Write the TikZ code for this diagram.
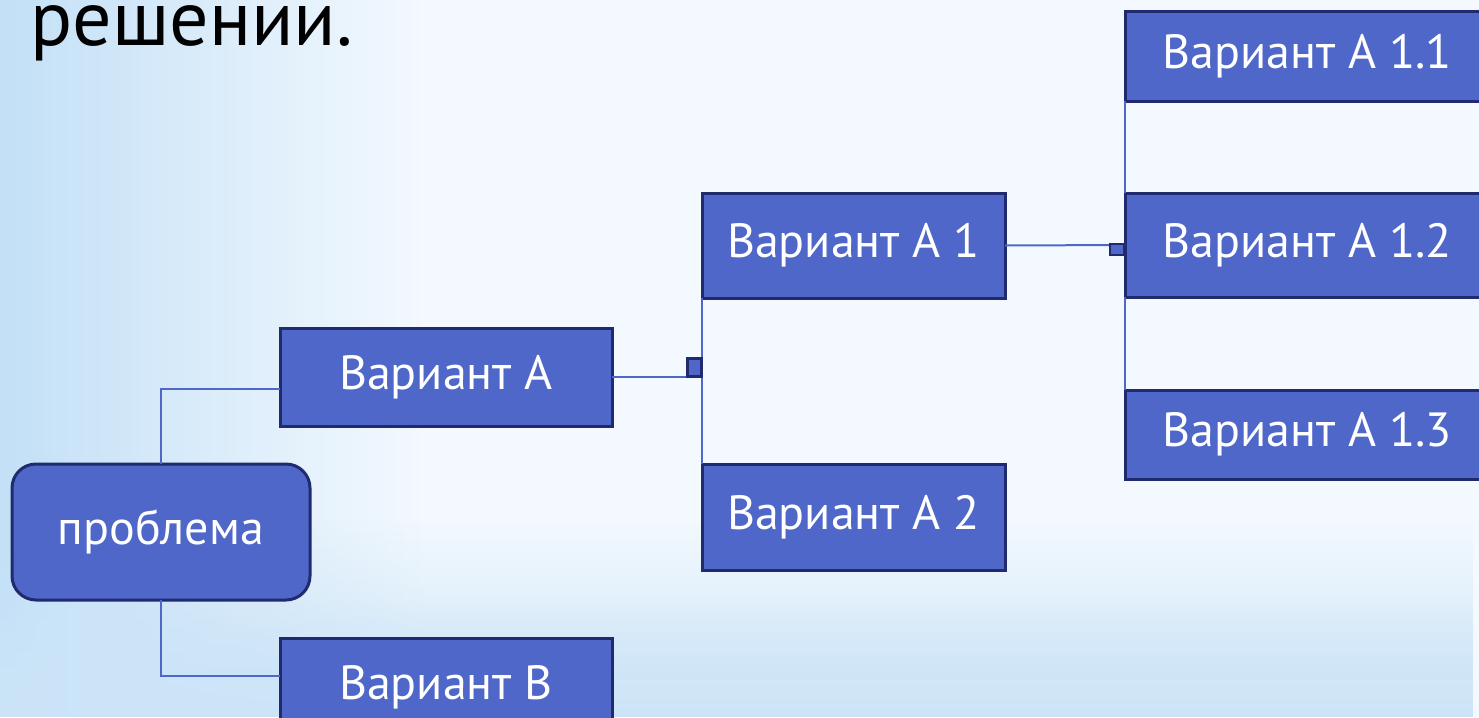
\documentclass[tikz,border=0pt]{standalone}
\usepackage{fontspec}
\usetikzlibrary{calc,fadings}
\newfontfamily\boxfont{PT Sans}
\newfontfamily\titlefont{PT Sans}
\definecolor{bgC}{HTML}{F3F9FE}
\definecolor{bgL}{HTML}{C3E0F7}
\definecolor{bgB}{HTML}{CBE4F8}
\definecolor{boxfill}{HTML}{4F67C9}
\definecolor{boxline}{HTML}{1F2B6E}
\definecolor{conn}{HTML}{4F67C9}
\tikzfading[name=fadeup, top color=transparent!100, bottom color=transparent!0]
\tikzfading[name=fadeleft, left color=transparent!0, right color=transparent!100]
\tikzset{
  vbox/.style={draw=boxline, fill=boxfill, line width=3pt, text=white,
    font=\boxfont\fontsize{48}{56}\selectfont, inner sep=0pt, outer sep=0pt},
  conline/.style={draw=conn, line width=2pt},
  tinybox/.style={draw=boxline, fill=boxfill, line width=2.5pt, inner sep=0pt, outer sep=0pt}
}
\begin{document}
\begin{tikzpicture}[x=1pt,y=-1pt]
\useasboundingbox (0,0) rectangle (1479,717);
\clip (0,0) rectangle (1479,717);
% background
\fill[bgC] (0,0) rectangle (1479,717);
\fill[bgL, path fading=fadeleft] (0,0) rectangle (420,717);
\fill[bgB, path fading=fadeup] (0,520) rectangle (1479,717);
\fill[bgB, path fading=fadeup, opacity=0.6] (0,600) rectangle (1479,680);
% title
\node[anchor=base west, inner sep=0pt, font=\titlefont\fontsize{78}{88}\selectfont, text=black] (title) at (30,46) {решении.};
% boxes
\node[vbox, rounded corners=24pt, minimum width=298pt, minimum height=136pt] (prob) at (161,532) {проблема};
\node[vbox, minimum width=332pt, minimum height=98pt] (vA) at (446,377) {Вариант А};
\node[vbox, minimum width=332pt, minimum height=98pt] (vB) at (446,687) {Вариант В};
\node[vbox, minimum width=303pt, minimum height=105pt] (vA1) at (853.5,245.5) {Вариант А 1};
\node[vbox, minimum width=303pt, minimum height=106pt] (vA2) at (853.5,517) {Вариант А 2};
\node[vbox, minimum width=364pt, minimum height=89pt] (vA11) at (1307,56.5) {Вариант А 1.1};
\node[vbox, minimum width=364pt, minimum height=104pt] (vA12) at (1307,245) {Вариант А 1.2};
\node[vbox, minimum width=364pt, minimum height=89pt] (vA13) at (1307,434.5) {Вариант А 1.3};
% connectors
\coordinate (jA) at (vA1.south west |- vA.east);
\draw[conline] (prob.north) |- ($(vA.west)+(0,12)$);
\draw[conline] (prob.south) |- ($(vB.west)+(0,-11)$);
\draw[conline] (vA.east) -- (jA);
\draw[conline] (vA1.south west) -- (vA2.north west);
\draw[conline] (vA11.south west) -- (vA12.north west);
\draw[conline] (vA12.south west) -- (vA13.north west);
\draw[conline] (vA1.east) -- (vA12.west);
% small collapsed markers
\node[tinybox, minimum width=14pt, minimum height=18pt] (m1) at (694.5,367.5) {};
\node[tinybox, minimum width=14pt, minimum height=11pt] (m2) at (1117,249.5) {};
\end{tikzpicture}
\end{document}
